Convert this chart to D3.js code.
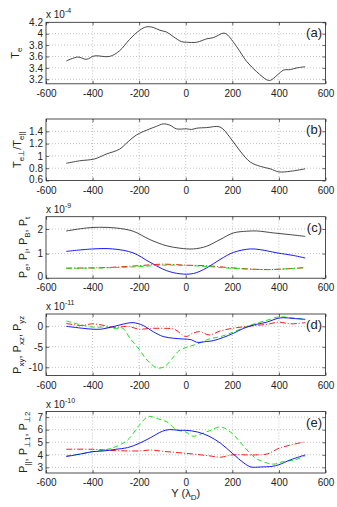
<!DOCTYPE html>
<html>
<head>
<meta charset="utf-8">
<script src="https://cdn.jsdelivr.net/npm/d3@7"></script>
<style>
  body { margin: 0; background: #fff; }
  text { font-family: "Liberation Sans", Arial, sans-serif; fill: #222; }
</style>
</head>
<body>
<svg id="fig" width="337" height="507"></svg>
<script>
// ---- data ----
const xTicks = [-600, -400, -200, 0, 200, 400, 600];

// (a) T_e  (x 1e-4)
const teData = [[-513,3.52],[-463,3.59],[-427,3.55],[-392,3.61],[-327,3.60],[-284,3.70],[-241,3.90],[-198,4.06],[-169,4.12],[-140,4.11],[-111,4.06],[-83,4.03],[-54,3.95],[-18,3.86],[4,3.85],[47,3.85],[90,3.91],[118,3.93],[162,4.01],[176,3.99],[219,3.77],[262,3.51],[305,3.33],[348,3.19],[363,3.18],[392,3.27],[420,3.36],[449,3.37],[478,3.40],[513,3.42]];

// (b) T_e_perp / T_e_par
const anisoData = [[-513,0.88],[-456,0.92],[-392,0.95],[-341,1.03],[-284,1.11],[-248,1.23],[-212,1.34],[-154,1.44],[-126,1.48],[-97,1.52],[-68,1.50],[-40,1.44],[4,1.44],[25,1.43],[47,1.45],[90,1.46],[147,1.47],[190,1.30],[233,1.08],[277,0.90],[320,0.83],[363,0.79],[399,0.74],[449,0.75],[513,0.79]];

// (c) pressures (x 1e-9)
const ptData = [[-513,1.92],[-427,2.04],[-370,2.07],[-298,2.04],[-226,1.91],[-154,1.57],[-83,1.32],[-25,1.22],[33,1.19],[90,1.30],[147,1.57],[205,1.84],[262,1.91],[305,1.92],[377,1.84],[449,1.77],[513,1.70]];
const pbData = [[-513,1.09],[-399,1.19],[-313,1.19],[-226,1.03],[-154,0.65],[-83,0.31],[-25,0.18],[33,0.19],[90,0.42],[147,0.76],[205,1.05],[277,1.19],[320,1.16],[392,1.03],[464,0.92],[513,0.82]];
const peData = [[-513,0.41],[-350,0.43],[-200,0.51],[-100,0.57],[0,0.53],[100,0.50],[200,0.42],[350,0.35],[513,0.43]];
const piData = [[-513,0.40],[-350,0.42],[-200,0.47],[-100,0.53],[0,0.52],[100,0.47],[200,0.40],[350,0.35],[513,0.43]];

// (d) off-diagonal pressure (x 1e-11)
const pxyData = [[-513,0],[-440,-0.5],[-400,-0.7],[-363,-0.7],[-313,-0.1],[-255,0.7],[-226,0.9],[-183,0.2],[-140,-1.3],[-97,-2.5],[-54,-2.9],[-11,-3.1],[25,-3.3],[47,-3.9],[90,-3.7],[118,-3.5],[162,-2.7],[205,-1.7],[248,-0.5],[305,0.5],[348,1.0],[392,1.9],[420,2.1],[464,1.9],[513,1.7]];
const pxzData = [[-513,1.3],[-460,0.5],[-400,-0.2],[-340,-0.2],[-300,-0.6],[-270,-0.5],[-240,-2.9],[-200,-5.6],[-170,-8.0],[-140,-9.6],[-120,-10.2],[-90,-9.8],[-60,-8.0],[-30,-6.0],[0,-5.2],[50,-4.3],[100,-3.1],[150,-2.5],[200,-1.5],[250,-0.3],[300,0.7],[350,1.5],[400,2.3],[450,2.1],[513,1.7]];
const pyzData = [[-513,0.7],[-450,0.2],[-400,0.6],[-350,0.2],[-300,-0.3],[-250,0],[-200,-0.7],[-150,-0.5],[-100,-0.5],[-50,-0.7],[0,-2.5],[30,-1.7],[60,-1.3],[100,-2.1],[150,-1.1],[200,-0.5],[250,-0.1],[300,0.2],[350,0.5],[400,1.0],[450,0.6],[513,0.9]];

// (e) diagonal pressure in field-aligned frame (x 1e-10)
const pparData = [[-513,3.86],[-450,4.07],[-400,4.25],[-350,4.31],[-300,4.44],[-250,4.57],[-200,4.91],[-150,5.38],[-100,5.88],[-70,6.01],[-30,5.95],[0,5.95],[50,5.82],[100,5.48],[150,4.91],[200,4.12],[250,3.34],[280,3.03],[320,3.03],[370,3.08],[400,3.21],[450,3.60],[513,3.99]];
const pperp1Data = [[-513,3.92],[-450,4.07],[-400,4.25],[-350,4.38],[-300,4.65],[-250,5.17],[-200,6.35],[-160,7.05],[-120,6.87],[-80,6.61],[-40,6.0],[0,5.82],[30,5.48],[70,5.69],[100,5.9],[150,6.22],[200,5.69],[250,4.65],[300,3.73],[350,3.34],[380,3.26],[420,3.47],[470,3.60],[513,3.92]];
const pperp2Data = [[-513,4.44],[-400,4.44],[-300,4.33],[-200,4.31],[-150,4.38],[-100,4.28],[0,4.12],[100,3.92],[150,3.81],[200,3.99],[300,3.99],[350,4.07],[400,4.52],[450,4.78],[513,5.04]];

// ---- layout ----
const svg = d3.select("#fig");
const x = d3.scaleLinear().domain([-600, 600]).range([46, 325.5]);
const panelH = 61.5;

const black = {color: "#333", dash: null};
const blue = {color: "#0000ff", dash: null};
const green = {color: "#00e000", dash: "5,3"};
const red = {color: "#ff0000", dash: "6,2,1,2"};

function richText(g, parts, size) {
    // parts: [text, isSub]
    let shifted = false;
    parts.forEach(p => {
        const t = g.append("tspan").text(p[0]);
        if (p[1] && !shifted) { t.attr("dy", 3).style("font-size", (size - 3) + "px"); shifted = true; }
        else if (p[1]) { t.style("font-size", (size - 3) + "px"); }
        else if (!p[1] && shifted) { t.attr("dy", -3); shifted = false; }
    });
}

function drawPanel(cfg) {
    const top = cfg.top, bottom = top + panelH;
    const y = d3.scaleLinear().domain(cfg.yDomain).range([bottom, top]);
    const g = svg.append("g");

    // grid
    g.selectAll(".gx").data(xTicks.slice(1, -1)).enter().append("line")
        .attr("x1", d => x(d)).attr("x2", d => x(d))
        .attr("y1", top).attr("y2", bottom)
        .attr("stroke", "#aaa").attr("stroke-width", 0.7).attr("stroke-dasharray", "1,2");
    g.selectAll(".gy").data(cfg.yTicks.filter(d => y(d) > top + 0.5 && y(d) < bottom - 0.5)).enter().append("line")
        .attr("x1", x.range()[0]).attr("x2", x.range()[1])
        .attr("y1", d => y(d)).attr("y2", d => y(d))
        .attr("stroke", "#aaa").attr("stroke-width", 0.7).attr("stroke-dasharray", "1,2");

    // axes with inward ticks
    const ax = [
        g.append("g").attr("transform", `translate(0,${bottom})`)
            .call(d3.axisBottom(x).tickValues(xTicks).tickSize(-3).tickPadding(6)),
        g.append("g").attr("transform", `translate(0,${top})`)
            .call(d3.axisTop(x).tickValues(xTicks).tickSize(-3).tickFormat("")),
        g.append("g").attr("class", "yleft").attr("transform", `translate(${x.range()[0]},0)`)
            .call(d3.axisLeft(y).tickValues(cfg.yTicks).tickSize(-3).tickPadding(3).tickFormat(cfg.fmt)),
        g.append("g").attr("transform", `translate(${x.range()[1]},0)`)
            .call(d3.axisRight(y).tickValues(cfg.yTicks).tickSize(-3).tickFormat(""))
    ];
    ax.forEach(a => {
        a.select(".domain").remove();
        a.attr("font-family", null).attr("font-size", 10);
        a.selectAll("line").attr("stroke", "#222").attr("stroke-width", 0.7);
        a.selectAll("text").attr("fill", "#222").text(function() { return this.textContent.replace("−", "-"); });
    });
    // lift a y label that sits right on the bottom edge so it clears the x labels
    ax[2].selectAll(".tick").filter(d => Math.abs(y(d) - bottom) < 1)
        .select("text").attr("y", -1.5);

    // frame
    g.append("rect").attr("x", x.range()[0]).attr("y", top)
        .attr("width", x.range()[1] - x.range()[0]).attr("height", panelH)
        .attr("fill", "none").attr("stroke", "#222").attr("stroke-width", 0.8);

    // lines
    const line = d3.line().x(d => x(d[0])).y(d => y(d[1])).curve(d3.curveCatmullRom);
    cfg.series.forEach(s => {
        g.append("path").datum(s.data)
            .attr("d", line)
            .attr("fill", "none")
            .attr("stroke", s.style.color)
            .attr("stroke-width", 0.9)
            .attr("stroke-dasharray", s.style.dash);
    });

    // panel label
    g.append("text").attr("x", 322).attr("y", top + 15)
        .attr("text-anchor", "end").style("font-size", "13px").text(cfg.tag);

    // y label
    const yl = g.append("text")
        .attr("transform", `translate(${cfg.ylx},${(top + bottom) / 2}) rotate(-90)`)
        .attr("text-anchor", "middle").style("font-size", "11px");
    richText(yl, cfg.ylabel, 11);

    // exponent
    if (cfg.exp) {
        const ex = g.append("text").attr("x", x.range()[0]).attr("y", top - 4).style("font-size", "10px");
        ex.append("tspan").text("x 10");
        ex.append("tspan").attr("dy", -5).style("font-size", "7px").text(cfg.exp);
    }
    return g;
}

drawPanel({top: 22.3, yDomain: [3.12, 4.2], yTicks: [3.2, 3.4, 3.6, 3.8, 4, 4.2], fmt: d => String(+d.toFixed(1)),
    series: [{data: teData, style: black}], tag: "(a)", ylx: 19,
    ylabel: [["T", false], ["e", true]], exp: "-4"});

drawPanel({top: 119, yDomain: [0.6, 1.6], yTicks: [0.6, 0.8, 1, 1.2, 1.4], fmt: d => String(+d.toFixed(1)),
    series: [{data: anisoData, style: black}], tag: "(b)", ylx: 21,
    ylabel: [["T", false], ["e\u22a5", true], ["/T", false], ["e||", true]], exp: null});

drawPanel({top: 216.7, yDomain: [0, 2.5], yTicks: [0, 1, 2], fmt: d => String(d),
    series: [{data: ptData, style: black}, {data: pbData, style: blue}, {data: peData, style: red}, {data: piData, style: green}],
    tag: "(c)", ylx: 27,
    ylabel: [["P", false], ["e", true], [", P", false], ["i", true], [", P", false], ["B", true], [", P", false], ["t", true]], exp: "-9"});

drawPanel({top: 314, yDomain: [-12, 3], yTicks: [-10, -5, 0], fmt: d => String(d),
    series: [{data: pyzData, style: red}, {data: pxzData, style: green}, {data: pxyData, style: blue}],
    tag: "(d)", ylx: 21,
    ylabel: [["P", false], ["xy", true], [", P", false], ["xz", true], [", P", false], ["yz", true]], exp: "-11"});

drawPanel({top: 411.5, yDomain: [2.55, 7.45], yTicks: [3, 4, 5, 6, 7], fmt: d => String(d),
    series: [{data: pperp2Data, style: red}, {data: pperp1Data, style: green}, {data: pparData, style: blue}],
    tag: "(e)", ylx: 27,
    ylabel: [["P", false], ["||", true], [", P", false], ["\u22a51", true], [", P", false], ["\u22a52", true]], exp: "-10"});

// x label
const xl = svg.append("text").attr("x", x(0)).attr("y", 497).attr("text-anchor", "middle").style("font-size", "11px");
richText(xl, [["Y (\u03bb", false], ["D", true], [")", false]], 11);
</script>
</body>
</html>
